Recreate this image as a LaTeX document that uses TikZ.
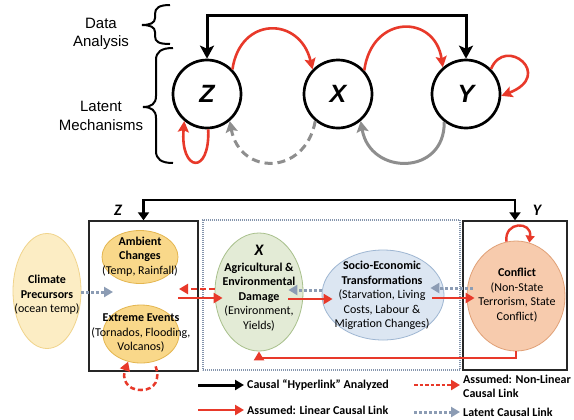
\documentclass[tikz,border=0pt]{standalone}
\usepackage{fontspec}
\setmainfont{Carlito}
\newfontfamily\arialf{Liberation Sans}
\usetikzlibrary{arrows.meta,shapes.geometric,calc}
\definecolor{cred}{RGB}{232,57,42}
\definecolor{cgray}{RGB}{142,142,142}
\definecolor{clat}{RGB}{140,156,180}
\definecolor{climfill}{RGB}{252,237,196}
\definecolor{climdraw}{RGB}{240,212,140}
\definecolor{ambfill}{RGB}{249,216,138}
\definecolor{ambdraw}{RGB}{228,182,80}
\definecolor{agrfill}{RGB}{227,235,214}
\definecolor{agrdraw}{RGB}{168,192,140}
\definecolor{socfill}{RGB}{220,230,242}
\definecolor{socdraw}{RGB}{158,182,210}
\definecolor{confill}{RGB}{247,203,173}
\definecolor{condraw}{RGB}{224,160,118}
\definecolor{dotbox}{RGB}{132,148,172}
\tikzset{
  topcirc/.style={circle, draw=black, fill=white, line width=2.7bp, minimum size=68bp, inner sep=0pt,
    font=\arialf\bfseries\itshape\fontsize{25bp}{25bp}\selectfont},
  toptxt/.style={align=center, inner sep=0pt, font=\arialf\fontsize{15bp}{18.5bp}\selectfont},
  bracel/.style={line width=2bp, black},
  hypertop/.style={line width=3bp, black, line join=miter,
    {Stealth[length=13bp,width=14bp,inset=3bp]}-{Stealth[length=13bp,width=14bp,inset=3bp]}},
  redarc/.style={line width=2.6bp, cred, -{Stealth[length=11bp,width=11bp,inset=2bp]}},
  graydash/.style={line width=3bp, cgray, dash pattern=on 8bp off 5bp, -{Stealth[length=11bp,width=12bp,inset=2bp]}},
  graysol/.style={line width=3bp, cgray, -{Stealth[length=11bp,width=12bp,inset=2bp]}},
  ell/.style={ellipse, inner sep=0pt, line width=0.8bp},
  etxt/.style={align=center, inner sep=0pt, font=\fontsize{12bp}{14.5bp}\selectfont},
  lbl/.style={inner sep=0pt, font=\bfseries\itshape\fontsize{16bp}{16bp}\selectfont},
  boxz/.style={draw=black!85, line width=1.4bp, rectangle, inner sep=0pt},
  boxd/.style={draw=dotbox, line width=1.1bp, dash pattern=on 1bp off 1bp, rectangle, inner sep=0pt},
  hyperbot/.style={line width=2.3bp, black,
    {Triangle[length=8bp,width=11bp]}-{Triangle[length=8bp,width=11bp]}},
  linarr/.style={line width=2.5bp, cred, -{Triangle[length=9bp,width=10bp]}},
  linloop/.style={line width=2.4bp, cred, -{Triangle[length=7bp,width=9bp]}},
  nonlin/.style={line width=2.5bp, cred, dash pattern=on 6bp off 3bp, -{Triangle[length=9bp,width=10bp]}},
  nonlinleg/.style={line width=2.5bp, cred, dash pattern=on 3.5bp off 2bp, -{Triangle[length=9bp,width=10bp]}},
  latent/.style={line width=3bp, clat, dash pattern=on 3bp off 2bp, -{Triangle[length=9bp,width=10bp]}},
  blackleg/.style={line width=3bp, black, -{Triangle[length=9bp,width=10bp]}},
  legtxt/.style={anchor=west, inner sep=3bp, align=left, font=\bfseries\fontsize{12bp}{14bp}\selectfont},
}
\begin{document}
\begin{tikzpicture}[x=1bp,y=-1bp]
\useasboundingbox[fill=white] (0,0) rectangle (574,419);

% ---------- top part ----------
\node[toptxt] (da) at (101,34) {Data\\Analysis};
\node[toptxt] (lm) at (101,116) {Latent\\Mechanisms};
\draw[bracel] (170,5) .. controls (159,5) and (155,8) .. (155,14) -- (155,18)
  .. controls (155,23) and (150,25) .. (142,25) .. controls (150,25) and (155,27) .. (155,32)
  -- (155,36) .. controls (155,42) and (159,44) .. (170,44);
\draw[bracel] (173,48) .. controls (161,48) and (156,52) .. (156,60) -- (156,96)
  .. controls (156,104) and (151,107) .. (143,107) .. controls (151,107) and (156,110) .. (156,118)
  -- (156,151) .. controls (156,159) and (161,163) .. (173,163);

\node[topcirc] (Z) at (207,94) {Z};
\node[topcirc] (X) at (338,94) {X};
\node[topcirc] (Y) at (466,94) {Y};

\coordinate (hl) at (0,15);
\draw[hypertop] (Z.north) -- (Z.north |- hl) -- (Y.north |- hl) -- (Y.north);

\draw[redarc] (Z.44) .. controls (240,16) and (300,16) .. (X.136);
\draw[redarc] (X.42) .. controls (372,14) and (435,14) .. (Y.131);
\draw[redarc] (Y.45) .. controls (505,35) and (555,75) .. (Y.-3);
\draw[redarc] (Z.-88) .. controls (210,176) and (180,172) .. (Z.-130);
\draw[graydash] (X.-130) .. controls (305,176) and (240,176) .. (Z.-50);
\draw[graysol] (Y.-128) .. controls (445,176) and (370,176) .. (X.-50);

% ---------- bottom part ----------
\node[boxd, minimum width=257bp, minimum height=150bp] (Dbox) at (331.5,295) {};
\node[boxz, minimum width=109bp, minimum height=150bp] (Zbox) at (143.5,296) {};
\node[boxz, minimum width=104bp, minimum height=149bp] (Ybox) at (515,295.5) {};

\node[lbl] (zlab) at (118,210) {Z};
\node[lbl] (ylab) at (537,210) {Y};

\coordinate (hl2) at (0,200);
\draw[hyperbot] (Zbox.north) -- (Zbox.north |- hl2) -- (Ybox.north |- hl2) -- (Ybox.north);

\node[ell, fill=climfill, draw=climdraw, minimum width=68bp, minimum height=115bp] (Climate) at (47,291) {};
\node[ell, fill=ambfill, draw=ambdraw, minimum width=76bp, minimum height=53bp] (Ambient) at (140,257) {};
\node[ell, fill=ambfill, draw=ambdraw, minimum width=76bp, minimum height=58bp] (Extreme) at (141,334) {};
\node[ell, fill=agrfill, draw=agrdraw, minimum width=88bp, minimum height=118bp] (Agri) at (259,292) {};
\node[ell, fill=socfill, draw=socdraw, minimum width=122bp, minimum height=90bp] (Socio) at (383,295) {};
\node[ell, fill=confill, draw=condraw, minimum width=98bp, minimum height=110bp] (Conflict) at (516,296) {};

\node[etxt] (Climate-t) at (47,295) {\textbf{Climate}\\\textbf{Precursors}\\(ocean temp)};
\node[etxt] (Ambient-t) at (140,256.5) {\textbf{Ambient}\\\textbf{Changes}\\(Temp, Rainfall)};
\node[etxt] (Extreme-t) at (141,333) {\textbf{Extreme Events}\\(Tornados, Flooding,\\Volcanos)};
\node[lbl] (Agri-x) at (259,250) {X};
\node[etxt] (Agri-t) at (259,297) {\textbf{Agricultural \&}\\\textbf{Environmental}\\\textbf{Damage}\\(Environment,\\Yields)};
\node[etxt] (Socio-t) at (382,295.5) {\textbf{Socio-Economic}\\\textbf{Transformations}\\(Starvation, Living\\Costs, Labour \&\\Migration Changes)};
\node[etxt] (Conflict-t) at (517,295) {\textbf{Conflict}\\(Non-State\\Terrorism, State\\Conflict)};

% connectors
\coordinate (zmid) at (113,292);
\draw[latent] (Climate.east |- zmid) -- (zmid);
\coordinate (zr1) at (179,289);
\draw[nonlin] (Agri.west |- zr1) -- (zr1);
\coordinate (zr2) at (178,298);
\draw[linarr] (zr2) -- ($(Agri.west |- zr2)+(8,0)$);
\draw[latent] ($(Socio.west)+(0,-5)$) -- ($(Agri.east)+(-15,-2)$);
\draw[linarr] ($(Agri.east)+(-15,7)$) -- ($(Socio.west)+(11,4)$);
\draw[latent] ($(Conflict.west)+(6,-8)$) -- ($(Socio.east)+(-14,-7)$);
\draw[linarr] ($(Socio.east)+(-12,3)$) -- ($(Conflict.west)+(8,2)$);
\coordinate (fb) at (0,358);
\draw[linarr] (Conflict.south) -- (Conflict.south |- fb) -| (Agri.south);
\draw[linloop] (Conflict.100) .. controls (504,221) and (532,221) .. (Conflict.76);
\draw[nonlin, dash pattern=on 5bp off 3bp, shorten <=5bp] (Extreme.-65) .. controls (160,378) and (156,390) .. (141,390)
  .. controls (126,390) and (122,378) .. (Extreme.-115);

% legend
\node[legtxt] (leg1) at (244,385) {Causal “Hyperlink” Analyzed};
\node[legtxt] (leg2) at (244,410) {Assumed: Linear Causal Link};
\node[legtxt] (leg3) at (460,386) {Assumed: Non-Linear\\Causal Link};
\node[legtxt] (leg4) at (460,412) {Latent Causal Link};
\coordinate (lg1) at (198,385);
\coordinate (lg2) at (198,410);
\coordinate (lg3) at (414,385);
\coordinate (lg4) at (414,412);
\draw[blackleg] (lg1) -- (leg1.west);
\draw[linarr] (lg2) -- (leg2.west);
\draw[nonlinleg] (lg3) -- (leg3.west |- lg3);
\draw[latent] (lg4) -- (leg4.west);
\end{tikzpicture}
\end{document}
